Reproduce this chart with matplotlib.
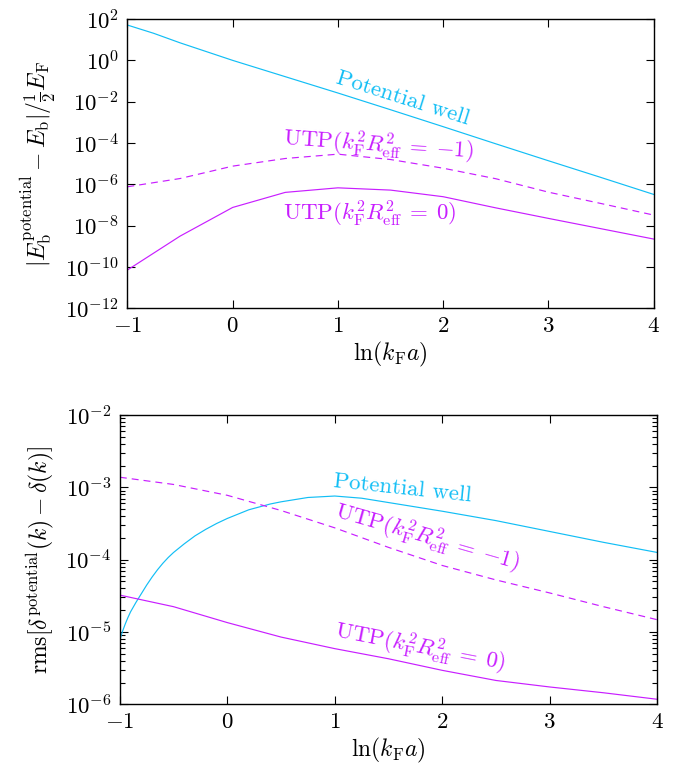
import numpy as np
import matplotlib
matplotlib.use("Agg")
import matplotlib.pyplot as plt
from matplotlib.ticker import LogLocator, FixedLocator, NullLocator, LogFormatterMathtext

plt.rcParams.update({
    "font.family": "serif",
    "font.serif": ["cmr10"],
    "mathtext.fontset": "cm",
    "axes.formatter.use_mathtext": True,
    "axes.unicode_minus": True,
    "lines.scale_dashes": False,
})

CYAN = "#12BEF5"
MAGENTA = "#C81EFF"

# ---- top panel: binding-energy error (log10 of |dE| / (E_F/2)) ----
x_well_top = [-1.0, -0.75, -0.5, 0.0, 0.5, 1.0, 1.5, 2.0, 2.5, 3.0, 3.5, 4.0]
well_top_log10 = [1.71, 1.31, 0.85, 0.0, -0.79, -1.58, -2.39, -3.21, -4.04, -4.86, -5.67, -6.49]

x_utp_top = [-1.0, -0.5, 0.0, 0.5, 1.0, 1.5, 2.0, 2.5, 3.0, 3.5, 4.0]
utp_m1_top_log10 = [-6.12, -5.72, -5.12, -4.75, -4.54, -4.80, -5.22, -5.73, -6.38, -6.93, -7.49]
utp_0_top_log10 = [-10.15, -8.51, -7.12, -6.39, -6.17, -6.28, -6.60, -7.14, -7.65, -8.15, -8.65]

# ---- bottom panel: rms phase-shift error ----
x_well_bot = [-1.0, -0.975, -0.95, -0.925, -0.9, -0.85, -0.8, -0.75, -0.7, -0.65, -0.6,
              -0.55, -0.5, -0.4, -0.3, -0.2, -0.1, 0.0, 0.1, 0.2, 0.3, 0.4, 0.5,
              0.75, 1.0, 1.25, 1.5, 2.0, 2.5, 3.0, 3.5, 4.0]
well_bot_log10 = [-5.11, -4.99, -4.89, -4.80, -4.72, -4.59, -4.47, -4.35, -4.24, -4.14, -4.05,
                  -3.97, -3.90, -3.78, -3.67, -3.58, -3.50, -3.43, -3.37, -3.31, -3.27, -3.23,
                  -3.20, -3.14, -3.12, -3.15, -3.21, -3.33, -3.46, -3.61, -3.76, -3.90]

x_utp_bot = [-1.0, -0.5, 0.0, 0.5, 1.0, 1.5, 2.0, 2.5, 3.0, 3.5, 4.0]
utp_m1_bot_log10 = [-2.86, -2.96, -3.11, -3.32, -3.56, -3.83, -4.08, -4.28, -4.46, -4.65, -4.83]
utp_0_bot_log10 = [-4.49, -4.65, -4.87, -5.07, -5.23, -5.37, -5.53, -5.67, -5.76, -5.84, -5.93]

x_ticks = [-1, 0, 1, 2, 3, 4]

LBL_M1 = r"UTP($k_\mathrm{F}^2R_\mathrm{eff}^2\:=\:-1$)"
LBL_0 = r"UTP($k_\mathrm{F}^2R_\mathrm{eff}^2\:=\:0$)"

fig = plt.figure(figsize=(6.81, 7.68), dpi=100)
ax1 = fig.add_axes([0.187, 0.5986, 0.773, 0.3766])
ax2 = fig.add_axes([0.176, 0.0829, 0.789, 0.3767])

LW = 0.85
DASH = (5.0, 3.6)
FS_TICK = 16.5
FS_LAB = 17
FS_TXT = 16.5


def style(ax):
    ax.set_yscale("log")
    ax.set_xlim(-1, 4)
    ax.xaxis.set_major_locator(FixedLocator(x_ticks))
    ax.tick_params(which="both", direction="in", top=True, right=True,
                   labelsize=FS_TICK, width=0.8)
    ax.tick_params(which="major", length=6, pad=6)
    ax.tick_params(which="minor", length=3.5)
    for s in ax.spines.values():
        s.set_linewidth(1.0)


# top panel
ax1.plot(x_well_top, 10.0 ** np.array(well_top_log10), color=CYAN, lw=LW)
ax1.plot(x_utp_top, 10.0 ** np.array(utp_m1_top_log10), color=MAGENTA, lw=LW, dashes=DASH)
ax1.plot(x_utp_top, 10.0 ** np.array(utp_0_top_log10), color=MAGENTA, lw=LW)
style(ax1)
ax1.set_ylim(1e-12, 1e2)
ax1.yaxis.set_major_locator(FixedLocator([10.0 ** e for e in range(-12, 3, 2)]))
ax1.yaxis.set_major_formatter(LogFormatterMathtext())
ax1.yaxis.set_minor_locator(NullLocator())
ax1.set_xlabel(r"ln($k_\mathrm{F}a$)", fontsize=FS_LAB, labelpad=3)
ax1.set_ylabel(r"$|E_\mathrm{b}^\mathrm{potential}-E_\mathrm{b}|/\frac{1}{2}E_\mathrm{F}$",
               fontsize=FS_LAB, labelpad=5)

ax1.text(1.62, 10 ** -1.83, "Potential well", color=CYAN, fontsize=FS_TXT,
         rotation=-17.5, ha="center", va="center", rotation_mode="anchor")
ax1.text(1.38, 10 ** -4.10, LBL_M1, color=MAGENTA, fontsize=FS_TXT,
         rotation=-4, ha="center", va="center", rotation_mode="anchor")
ax1.text(1.30, 10 ** -7.44, LBL_0, color=MAGENTA, fontsize=FS_TXT,
         rotation=0, ha="center", va="center")

# bottom panel
ax2.plot(x_well_bot, 10.0 ** np.array(well_bot_log10), color=CYAN, lw=LW)
ax2.plot(x_utp_bot, 10.0 ** np.array(utp_m1_bot_log10), color=MAGENTA, lw=LW, dashes=DASH)
ax2.plot(x_utp_bot, 10.0 ** np.array(utp_0_bot_log10), color=MAGENTA, lw=LW)
style(ax2)
ax2.set_ylim(1e-6, 1e-2)
ax2.yaxis.set_major_locator(LogLocator(base=10, numticks=10))
ax2.yaxis.set_minor_locator(LogLocator(base=10, subs=np.arange(2, 10), numticks=10))
ax2.yaxis.set_major_formatter(LogFormatterMathtext())
ax2.set_xlabel(r"ln($k_\mathrm{F}a$)", fontsize=FS_LAB, labelpad=3)
ax2.set_ylabel(r"rms[$\delta^\mathrm{potential}(k)-\delta(k)$]", fontsize=FS_LAB, labelpad=7)

ax2.text(1.626, 10 ** -3.01, "Potential well", color=CYAN, fontsize=FS_TXT,
         rotation=-6, ha="center", va="center", rotation_mode="anchor")
ax2.text(1.86, 10 ** -3.70, LBL_M1, color=MAGENTA, fontsize=FS_TXT,
         rotation=-16, ha="center", va="center", rotation_mode="anchor")
ax2.text(1.79, 10 ** -5.22, LBL_0, color=MAGENTA, fontsize=FS_TXT,
         rotation=-11, ha="center", va="center", rotation_mode="anchor")

fig.savefig("out.png", dpi=100)
